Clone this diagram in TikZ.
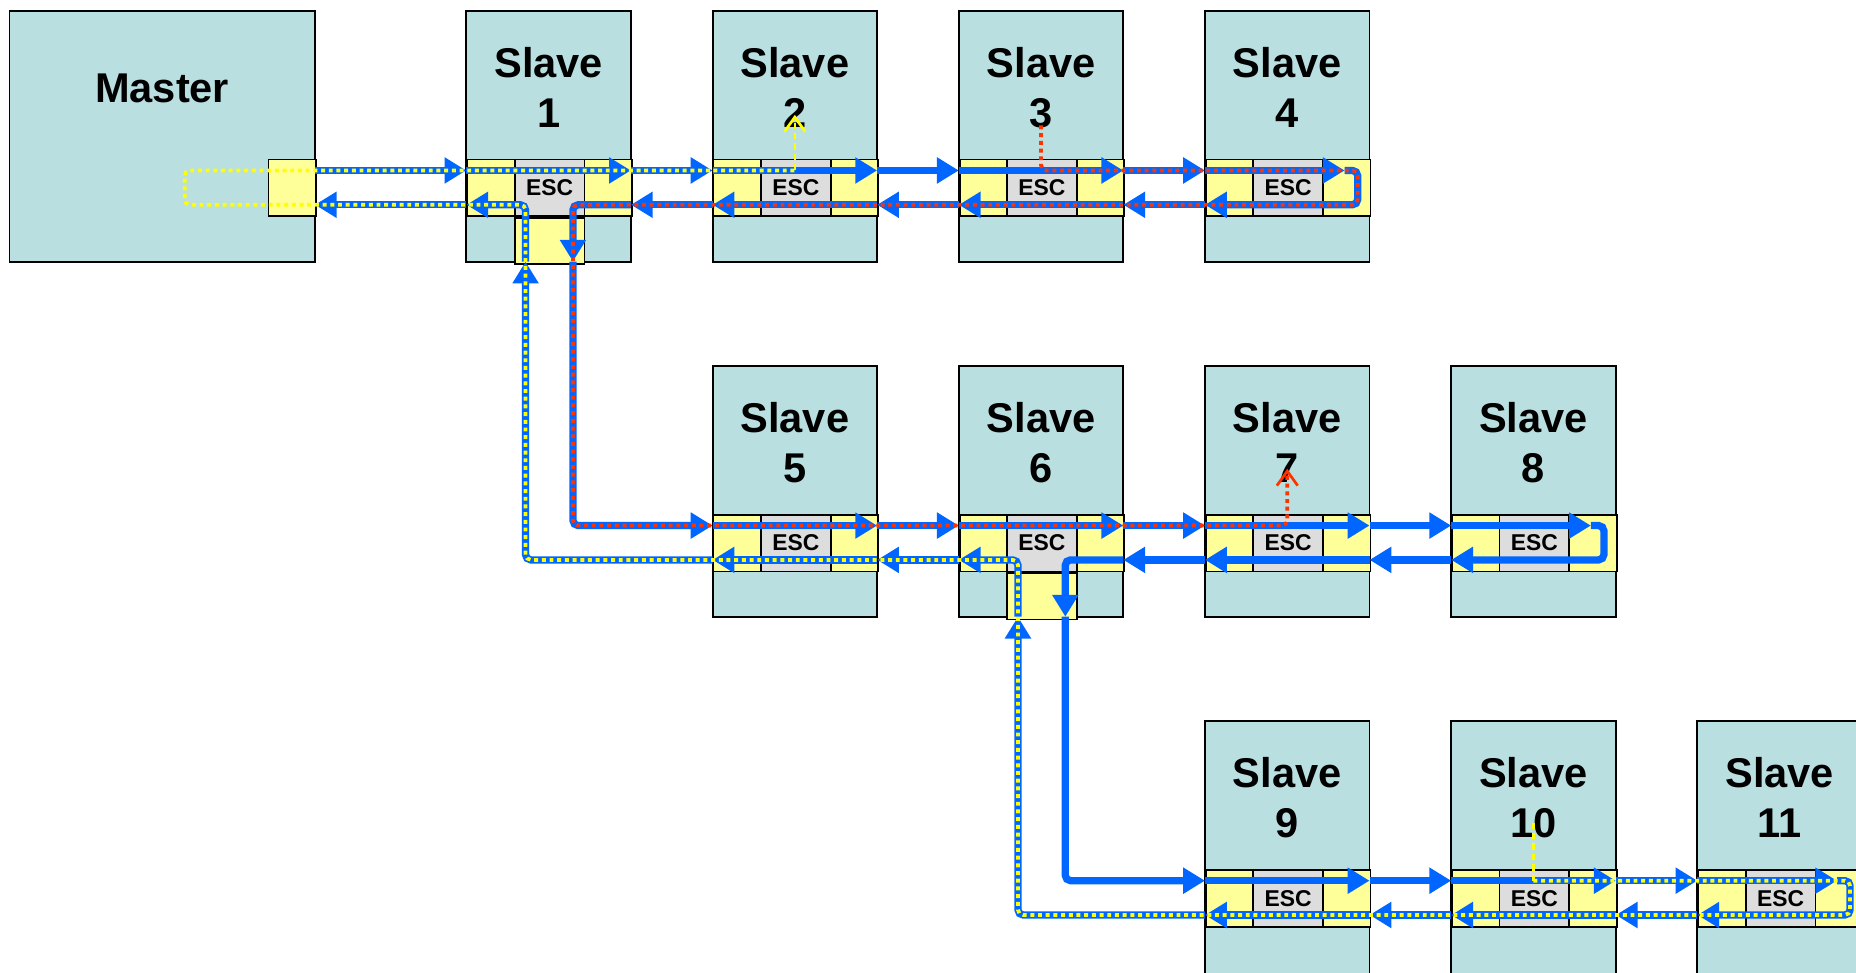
\documentclass[tikz,border=0pt]{standalone}
\usepackage{fontspec}
\setmainfont{Liberation Sans}
\usepackage{tikz}
\usetikzlibrary{arrows.meta,positioning,calc}
\definecolor{slavefill}{HTML}{B9DFE1}
\definecolor{portfill}{HTML}{FFFF99}
\definecolor{escfill}{HTML}{DDDDDD}
\definecolor{busblue}{HTML}{0066FF}
\definecolor{frameyel}{HTML}{FFFF00}
\definecolor{framered}{HTML}{FF3300}
\tikzset{box/.style={draw=black,line width=0.9pt,fill=slavefill,inner sep=0pt,minimum width=2.78cm,minimum height=4.24cm},cell/.style={box,fill=portfill,anchor=north west,minimum width=0.8cm,minimum height=0.96cm},esc/.style={cell,fill=escfill,minimum width=1.18cm,font=\bfseries\fontsize{11}{12}\selectfont},slavelbl/.style={font=\bfseries\fontsize{20}{24}\selectfont,align=center},bus/.style={draw=busblue,line width=3.5pt,rounded corners=2.5pt,-{Triangle[length=10.5pt,width=12pt]}},dots/.style={draw=frameyel,line width=1.8pt,dash pattern=on 1.9pt off 1.8pt,rounded corners=2.5pt},reddots/.style={dots,draw=framered},stub/.style={draw=frameyel,line width=1.2pt,dash pattern=on 3pt off 2pt},barb/.style={-{Straight Barb[length=7pt,width=10pt,line width=1.3pt]}}}

\begin{document}
\begin{tikzpicture}[x=0.02cm,y=-0.02cm]
\useasboundingbox (0,0) rectangle (1568,822);
\clip (0,0) rectangle (1568,822);
% master with its port
\node[box,minimum width=5.16cm] (m) at (137,115) {};
\node[cell] (mp) at (226,134) {};
\node[slavelbl,anchor=base] (mt) at (137,87) {Master};
\coordinate (m-to) at (266,144); \coordinate (m-bi) at (266,173); \coordinate (m-lp) at (156,173);
% slaves: box, port strip, label, port points
\foreach \n/\x/\y/\h in {1/394/9/212,2/602/9/212,3/810/9/212,4/1018/9/212,5/602/309/212,6/810/309/212,7/1018/309/212,8/1226/309/212,9/1018/609/240,10/1226/609/240,11/1434/609/240}{
  \node[box,minimum height=\h*0.02cm] (s\n) at (\x+69.5,\y+\h/2) {};
  \node[cell] (s\n-l) at (\x,\y+125) {};
  \node[esc] (s\n-e) at (\x+40,\y+125) {ESC};
  \node[cell] (s\n-r) at (\x+99,\y+125) {};
  \node[slavelbl] (s\n-t) at (\x+69.5,\y+65) {Slave\\\n};
  \coordinate (s\n-ti) at (\x,\y+135); \coordinate (s\n-to) at (\x+139,\y+135);
  \coordinate (s\n-bi) at (\x+139,\y+164); \coordinate (s\n-bo) at (\x,\y+164);
  \coordinate (s\n-tm) at (\x+69.5,\y+135); \coordinate (s\n-num) at (\x+69.5,\y+90);
  \coordinate (s\n-tk) at (\x+118,\y+135); \coordinate (s\n-lp) at (\x+129,\y+135);
  \coordinate (s\n-dn) at (\x+90,\y+164); \coordinate (s\n-up) at (\x+50,\y+164);
  \coordinate (s\n-dnb) at (\x+90,\y+212); \coordinate (s\n-upb) at (\x+50,\y+212);
}
% third port below ESC
\foreach \n in {1,6}{\node[cell,minimum width=1.18cm,minimum height=0.78cm] (s\n-b) at (s\n-e.south west) {};}
% bus lines
\draw[bus] (m-to) -- (s1-ti);
\draw[bus] (s1-bo) -- (m-bi);
\foreach \a/\b in {1/2,2/3,3/4,5/6,6/7,7/8,9/10,10/11}{
  \draw[bus] (s\a-to) -- (s\b-ti);
  \draw[bus] (s\b-bo) -- (s\a-bi);
}
\foreach \n in {1,2,3,5,6,7,9,10}{\draw[bus] (s\n-ti) -- (s\n-to);}
\foreach \n in {2,3,5,7,9,10}{\draw[bus] (s\n-bi) -- (s\n-bo);}
\foreach \n in {4,8,11}{
  \draw[bus] (s\n-ti) -- (s\n-tk);
  \draw[bus] (s\n-tk) -- (s\n-lp) |- (s\n-bo);
}
% branches down and back up
\draw[bus] (s1-bi) -| (s1-dnb);
\draw[bus] (s1-dnb) |- (s5-ti);
\draw[bus] (s5-bo) -| (s1-upb);
\draw[bus] (s1-upb) |- (s1-bo);
\draw[bus] (s6-bi) -| (s6-dnb);
\draw[bus] (s6-dnb) |- (s9-ti);
\draw[bus] (s9-bo) -| (s6-upb);
\draw[bus] (s6-upb) |- (s6-bo);
% frames
\draw[dots] (s10-tm) -- (s11-lp) |- (s9-bo) -| (s6-up) -- (s5-bo) -| (s1-up) -- (m-lp) |- (s2-tm);
\draw[reddots,barb] ($(s3-num)+(0,7)$) -- (s3-tm) -- (s4-lp) |- (s1-dn) |- (s7-tm) -- ($(s7-num)+(0,-3)$);
\draw[stub] ($(s10-num)+(0,-4)$) -- (s10-tm);
\draw[stub,barb] (s2-tm) -- ($(s2-num)+(0,-2)$);
\end{tikzpicture}
\end{document}
